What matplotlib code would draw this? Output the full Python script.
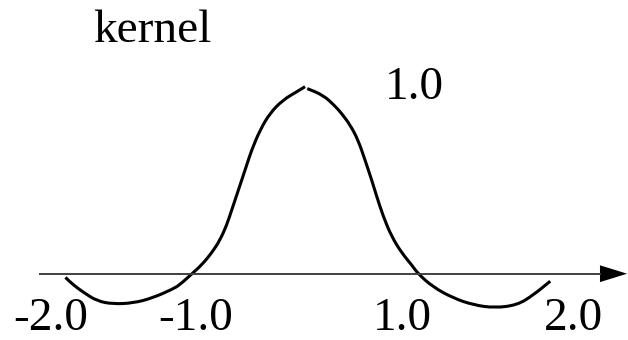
import matplotlib
matplotlib.use("Agg")
import numpy as np
import matplotlib.pyplot as plt
from matplotlib.path import Path
from matplotlib.patches import PathPatch

# kernel profile, left half up to the peak and right half down from it
left_x = [-2.12, -2.05, -1.96, -1.84, -1.70, -1.52, -1.35, -1.17, -1.11, -1.00,
          -0.914, -0.826, -0.752, -0.693, -0.649, -0.604, -0.560, -0.516, -0.472,
          -0.398, -0.310, -0.195, -0.073, 0.0]
left_y = [-0.02, -0.06, -0.10, -0.146, -0.162, -0.157, -0.13, -0.082, -0.06, 0.0,
          0.047, 0.111, 0.180, 0.260, 0.340, 0.421, 0.501, 0.581, 0.662,
          0.768, 0.859, 0.929, 0.973, 1.0]
right_x = [0.02, 0.16, 0.26, 0.32, 0.40, 0.469, 0.531, 0.590, 0.635, 0.693,
           0.767, 0.856, 0.944, 1.00, 1.13, 1.31, 1.49, 1.68, 1.88, 2.02, 2.17]
right_y = [0.99, 0.955, 0.90, 0.86, 0.795, 0.716, 0.608, 0.501, 0.412, 0.305,
           0.198, 0.111, 0.047, 0.0, -0.07, -0.13, -0.167, -0.183, -0.167, -0.114, -0.04]

tick_labels = ["-2.0", "-1.0", "1.0", "2.0"]
tick_text_x = [-2.584, -1.301, 0.602, 2.115]   # left edge of each label
peak_label = "1.0"
title = "kernel"

plt.rcParams['font.family'] = ['Liberation Serif', 'DejaVu Serif']


def smooth_path(xs, ys):
    # quadratic segments through the midpoints, using the points as controls
    pts = np.column_stack([xs, ys])
    verts = [pts[0], (pts[0] + pts[1]) / 2]
    codes = [Path.MOVETO, Path.LINETO]
    for i in range(1, len(pts) - 1):
        verts += [pts[i], (pts[i] + pts[i + 1]) / 2]
        codes += [Path.CURVE3, Path.CURVE3]
    verts.append(pts[-1])
    codes.append(Path.LINETO)
    return Path(verts, codes)


fig = plt.figure(figsize=(6.28, 3.40), dpi=100)
ax = fig.add_axes([0, 0, 1, 1])
ax.set_xlim(-2.699, 2.858)
ax.set_ylim(-0.3545, 1.4636)
ax.axis('off')

# x axis with arrow head
ax.plot([-2.35, 2.62], [0, 0], color='#404040', lw=1.4, solid_capstyle='butt')
ax.fill([2.61, 2.85, 2.61], [0.045, 0.0, -0.045], color='black', lw=0)

for xs, ys in [(left_x, left_y), (right_x, right_y)]:
    ax.add_patch(PathPatch(smooth_path(xs, ys), facecolor='none', edgecolor='black',
                           lw=2.2, capstyle='butt', joinstyle='round'))

fs = 34
for lab, x in zip(tick_labels, tick_text_x):
    ax.text(x, -0.300, lab, fontsize=fs, ha='left', va='baseline')
ax.text(0.708, 0.934, peak_label, fontsize=fs, ha='left', va='baseline')
ax.text(-1.876, 1.239, title, fontsize=fs, ha='left', va='baseline')

fig.savefig("out.png", dpi=100)
